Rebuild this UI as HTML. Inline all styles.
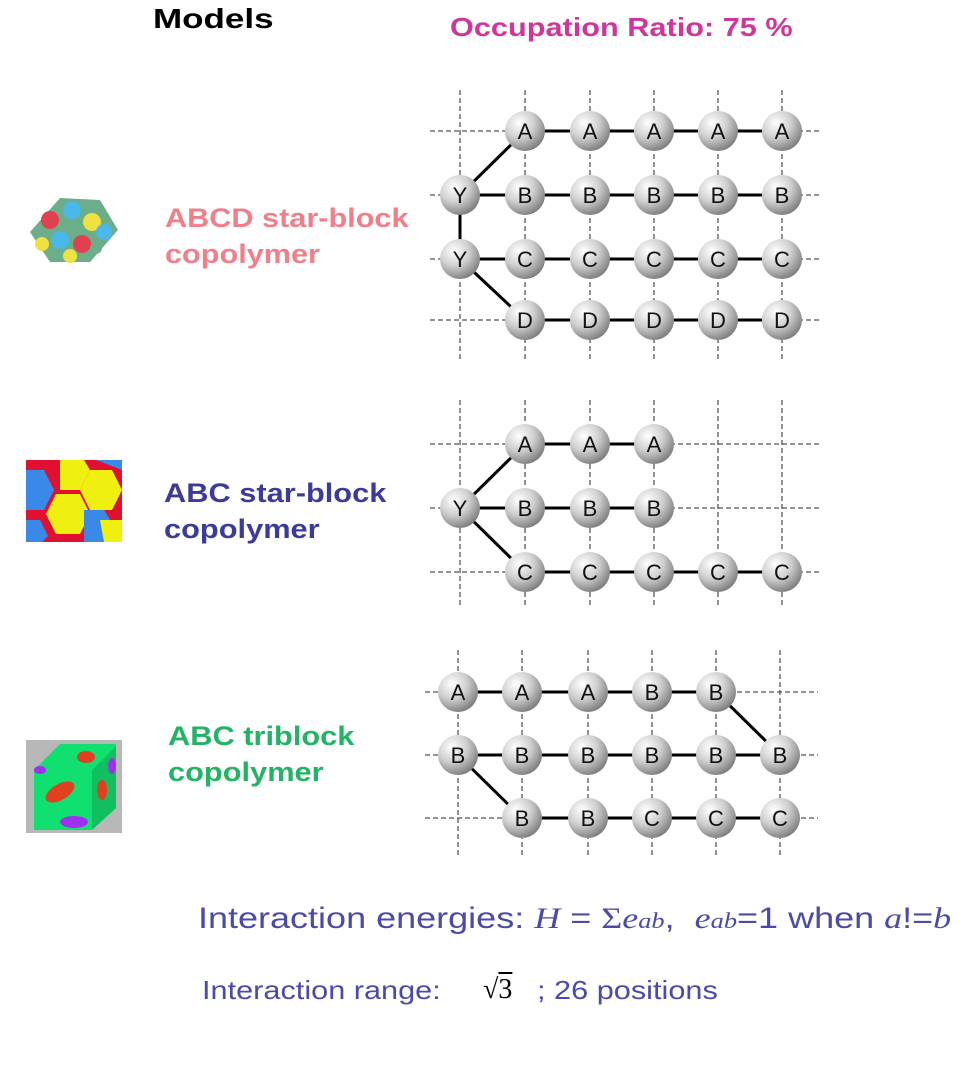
<!DOCTYPE html>
<html><head><meta charset="utf-8"><style>
body{margin:0;width:962px;height:1068px;background:#fff;position:relative;overflow:hidden;font-family:"Liberation Sans",sans-serif}
.t{position:absolute;white-space:nowrap;font-weight:bold;transform-origin:0 0}
</style></head><body>
<div class="t" style="left:153px;top:3px;font-size:28px;color:#000;transform:scaleX(1.25)">Models</div>
<div class="t" style="left:450px;top:12px;font-size:26px;color:#d0359a;transform:scaleX(1.18)">Occupation Ratio: 75 %</div>
<div class="t" style="left:165px;top:200px;font-size:27px;line-height:36px;color:#f07f8a;transform:scaleX(1.135)">ABCD star-block<br>copolymer</div>
<div class="t" style="left:164px;top:475px;font-size:27px;line-height:36px;color:#3b3b9c;transform:scaleX(1.14)">ABC star-block<br>copolymer</div>
<div class="t" style="left:168px;top:718px;font-size:27px;line-height:36px;color:#22b464;transform:scaleX(1.14)">ABC triblock<br>copolymer</div>
<div class="t" style="left:198px;top:902px;font-size:30px;font-weight:normal;color:#4a4aa8;transform:scaleX(1.2)">Interaction energies: <i style="font-family:'Liberation Serif',serif">H</i> = <span style="font-family:'Liberation Serif',serif">&Sigma;<i>e<span style="font-size:22px">ab</span></i></span>,&nbsp; <i style="font-family:'Liberation Serif',serif">e<span style="font-size:22px">ab</span></i>=1 when <i style="font-family:'Liberation Serif',serif">a</i>!=<i style="font-family:'Liberation Serif',serif">b</i></div>
<div class="t" style="left:202px;top:975px;font-size:26px;font-weight:normal;color:#4a4aa8;transform:scaleX(1.18)">Interaction range:</div>
<div class="t" style="left:483px;top:974px;font-size:28px;font-weight:normal;color:#000;font-family:'Liberation Serif',serif">&radic;<span style="text-decoration:overline">3</span></div>
<div class="t" style="left:537px;top:975px;font-size:26px;font-weight:normal;color:#4a4aa8;transform:scaleX(1.18)">; 26 positions</div>

<svg width="962" height="1068" style="position:absolute;left:0;top:0" xmlns="http://www.w3.org/2000/svg">
<defs>
<radialGradient id="g" cx="0.35" cy="0.3" r="0.75"><stop offset="0" stop-color="#fff"/><stop offset="0.5" stop-color="#cfcfcf"/><stop offset="1" stop-color="#7a7a7a"/></radialGradient>
<symbol id="b" overflow="visible"><circle r="20" fill="url(#g)"/></symbol>
</defs>
<g stroke="#555" stroke-width="1.3" stroke-dasharray="5,3">
<path d="M460 90V360M525 90V360M590 90V360M654 90V360M718 90V360M782 90V360M430 131H822M430 195H822M430 259H822M430 320H822"/>
<path d="M460 400V605M525 400V605M590 400V605M654 400V605M718 400V605M782 400V605M430 444H822M430 508H822M430 572H822"/>
<path d="M458 650V855M522 650V855M588 650V855M652 650V855M716 650V855M780 650V855M425 692H818M425 755H818M425 818H818"/>
</g>
<g stroke="#000" stroke-width="3">
<path d="M525 131H782M460 195H782M460 259H782M525 320H782M460 195L525 131M460 195V259M460 259L525 320"/>
<path d="M525 444H654M460 508H654M525 572H782M460 508L525 444M460 508L525 572"/>
<path d="M458 692H716M458 755H780M522 818H780M716 692L780 755M458 755L522 818"/>
</g>
<g>
<use href="#b" x="525" y="131"/><use href="#b" x="590" y="131"/><use href="#b" x="654" y="131"/><use href="#b" x="718" y="131"/><use href="#b" x="782" y="131"/>
<use href="#b" x="460" y="195"/><use href="#b" x="525" y="195"/><use href="#b" x="590" y="195"/><use href="#b" x="654" y="195"/><use href="#b" x="718" y="195"/><use href="#b" x="782" y="195"/>
<use href="#b" x="460" y="259"/><use href="#b" x="525" y="259"/><use href="#b" x="590" y="259"/><use href="#b" x="654" y="259"/><use href="#b" x="718" y="259"/><use href="#b" x="782" y="259"/>
<use href="#b" x="525" y="320"/><use href="#b" x="590" y="320"/><use href="#b" x="654" y="320"/><use href="#b" x="718" y="320"/><use href="#b" x="782" y="320"/>
<use href="#b" x="525" y="444"/><use href="#b" x="590" y="444"/><use href="#b" x="654" y="444"/>
<use href="#b" x="460" y="508"/><use href="#b" x="525" y="508"/><use href="#b" x="590" y="508"/><use href="#b" x="654" y="508"/>
<use href="#b" x="525" y="572"/><use href="#b" x="590" y="572"/><use href="#b" x="654" y="572"/><use href="#b" x="718" y="572"/><use href="#b" x="782" y="572"/>
<use href="#b" x="458" y="692"/><use href="#b" x="522" y="692"/><use href="#b" x="588" y="692"/><use href="#b" x="652" y="692"/><use href="#b" x="716" y="692"/>
<use href="#b" x="458" y="755"/><use href="#b" x="522" y="755"/><use href="#b" x="588" y="755"/><use href="#b" x="652" y="755"/><use href="#b" x="716" y="755"/><use href="#b" x="780" y="755"/>
<use href="#b" x="522" y="818"/><use href="#b" x="588" y="818"/><use href="#b" x="652" y="818"/><use href="#b" x="716" y="818"/><use href="#b" x="780" y="818"/>
</g>
<g font-family="Liberation Sans,sans-serif" font-size="22" text-anchor="middle" fill="#111">
<text x="525" y="139">A</text><text x="590" y="139">A</text><text x="654" y="139">A</text><text x="718" y="139">A</text><text x="782" y="139">A</text>
<text x="460" y="203">Y</text><text x="525" y="203">B</text><text x="590" y="203">B</text><text x="654" y="203">B</text><text x="718" y="203">B</text><text x="782" y="203">B</text>
<text x="460" y="267">Y</text><text x="525" y="267">C</text><text x="590" y="267">C</text><text x="654" y="267">C</text><text x="718" y="267">C</text><text x="782" y="267">C</text>
<text x="525" y="328">D</text><text x="590" y="328">D</text><text x="654" y="328">D</text><text x="718" y="328">D</text><text x="782" y="328">D</text>
<text x="525" y="452">A</text><text x="590" y="452">A</text><text x="654" y="452">A</text>
<text x="460" y="516">Y</text><text x="525" y="516">B</text><text x="590" y="516">B</text><text x="654" y="516">B</text>
<text x="525" y="580">C</text><text x="590" y="580">C</text><text x="654" y="580">C</text><text x="718" y="580">C</text><text x="782" y="580">C</text>
<text x="458" y="700">A</text><text x="522" y="700">A</text><text x="588" y="700">A</text><text x="652" y="700">B</text><text x="716" y="700">B</text>
<text x="458" y="763">B</text><text x="522" y="763">B</text><text x="588" y="763">B</text><text x="652" y="763">B</text><text x="716" y="763">B</text><text x="780" y="763">B</text>
<text x="522" y="826">B</text><text x="588" y="826">B</text><text x="652" y="826">C</text><text x="716" y="826">C</text><text x="780" y="826">C</text>
</g>
<g>
<polygon points="30,232 60,198 100,200 118,230 90,262 50,262" fill="#6cae8a"/>
<circle cx="50" cy="220" r="9" fill="#e04050"/><circle cx="72" cy="210" r="9" fill="#4ab8e8"/><circle cx="92" cy="222" r="9" fill="#f0e040"/>
<circle cx="60" cy="240" r="9" fill="#4ab8e8"/><circle cx="82" cy="244" r="9" fill="#e04050"/><circle cx="104" cy="232" r="8" fill="#4ab8e8"/>
<circle cx="42" cy="244" r="7" fill="#f0e040"/><circle cx="70" cy="256" r="7" fill="#f0e040"/><circle cx="96" cy="248" r="6" fill="#6cae8a"/>
</g>
<g>
<rect x="26" y="460" width="96" height="82" fill="#e01030"/>
<polygon points="26,470 44,470 54,490 44,510 26,510" fill="#3a88e8"/>
<polygon points="56,494 80,494 90,514 80,534 56,534 46,514" fill="#f0f010"/>
<polygon points="90,470 112,470 122,490 112,510 90,510 80,490" fill="#f0f010"/>
<polygon points="60,460 84,460 90,470 80,490 60,490" fill="#f0f010"/>
<polygon points="84,510 104,510 114,526 104,542 84,542" fill="#3a88e8"/>
<polygon points="26,520 40,520 48,536 42,542 26,542" fill="#3a88e8"/>
<polygon points="96,460 122,460 122,470" fill="#3a88e8"/>
<polygon points="100,520 122,520 122,542 104,542" fill="#f0f010"/>
</g>
<g>
<rect x="26" y="740" width="96" height="93" fill="#b8b8b8"/>
<polygon points="34,770 60,744 116,744 116,808 92,830 34,830" fill="#10e070"/>
<polygon points="92,770 116,746 116,808 92,830" fill="#10c060"/>
<ellipse cx="86" cy="757" rx="9" ry="6" fill="#e04020"/>
<ellipse cx="60" cy="792" rx="16" ry="8" fill="#e04020" transform="rotate(-30 60 792)"/>
<ellipse cx="102" cy="790" rx="5" ry="10" fill="#e04020"/>
<ellipse cx="74" cy="822" rx="14" ry="6" fill="#a030f0"/>
<ellipse cx="40" cy="770" rx="6" ry="4" fill="#a030f0"/>
<ellipse cx="112" cy="766" rx="4" ry="8" fill="#a030f0"/>
</g>
</svg>
</body></html>
